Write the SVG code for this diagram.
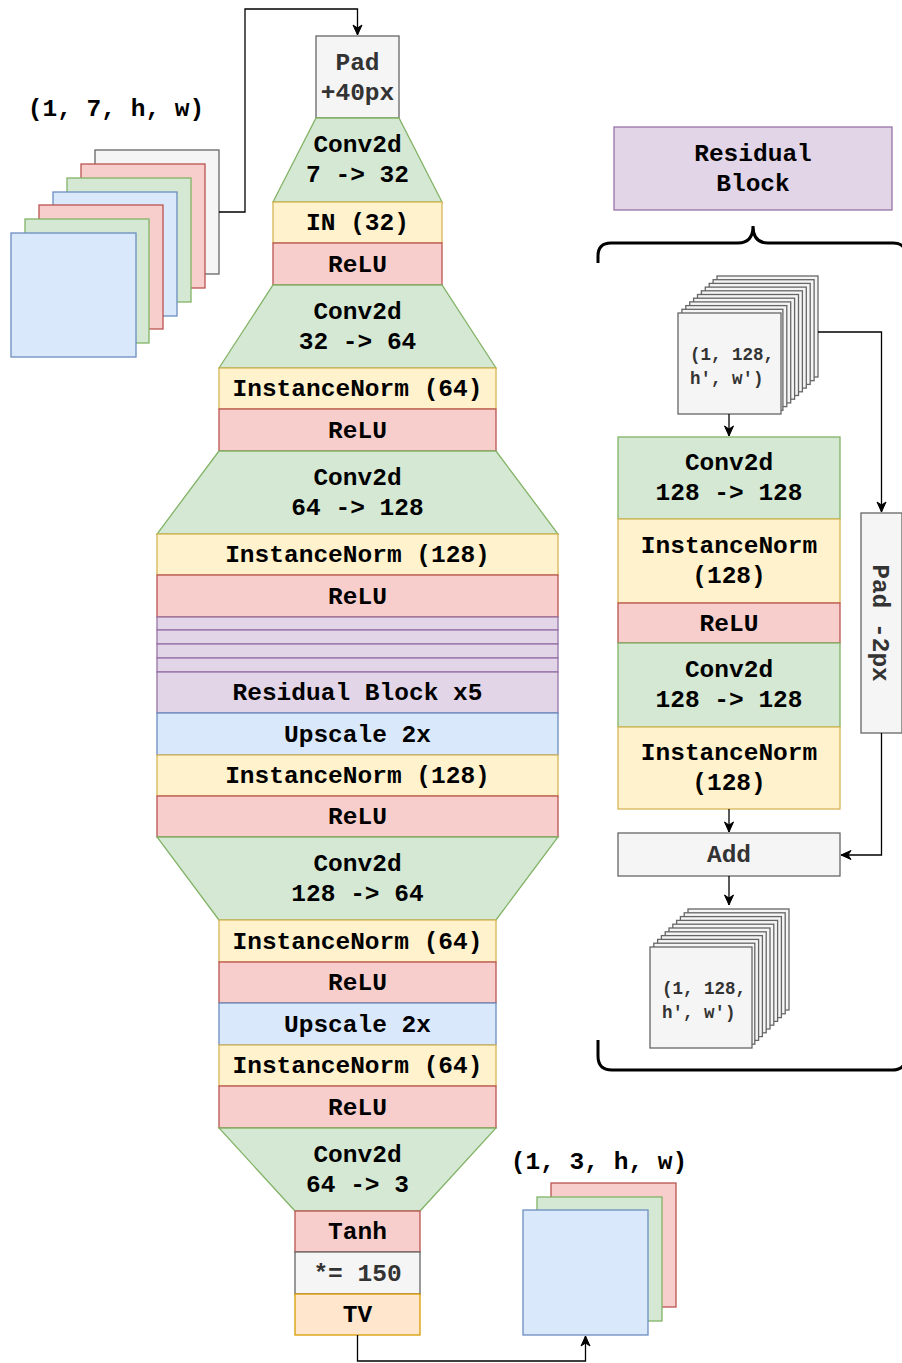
<svg xmlns="http://www.w3.org/2000/svg" width="902" height="1363" viewBox="0 0 902 1363">
  <style>
    text { font-family: "Liberation Mono", "Courier New", monospace; font-weight: bold; font-size: 24.5px; fill: #000; text-anchor: middle; }
    text.dim { fill: #333; }
    text.small { font-size: 17.5px; text-anchor: start; fill: #333; }
    .green { fill: #d5e8d4; stroke: #82b366; stroke-width: 1.3; }
    .yellow { fill: #fff2cc; stroke: #d6b656; stroke-width: 1.3; }
    .red { fill: #f8cecc; stroke: #b85450; stroke-width: 1.3; }
    .blue { fill: #dae8fc; stroke: #6c8ebf; stroke-width: 1.3; }
    .purple { fill: #e1d5e7; stroke: #9673a6; stroke-width: 1.3; }
    .gray { fill: #f5f5f5; stroke: #666; stroke-width: 1.3; }
    .orange { fill: #ffe6cc; stroke: #d79b00; stroke-width: 1.3; }
    .edge { fill: none; stroke: #000; stroke-width: 1.3; }
    .brace { fill: none; stroke: #000; stroke-width: 3; }
  </style>
  <defs>
    <marker id="arrow" markerUnits="userSpaceOnUse" markerWidth="12" markerHeight="12" viewBox="0 0 12 12" refX="11" refY="6" orient="auto">
      <path d="M1,1.5 L11,6 L1,10.5 L4,6 Z" fill="#000" stroke="#000" stroke-width="1"/>
    </marker>
  </defs>

  <!-- input tensor (1, 7, h, w) -->
  <g id="input">
    <text x="116" y="116">(1, 7, h, w)</text>
    <rect class="gray" x="95" y="150" width="124" height="124"/>
    <rect class="red" x="81" y="164" width="124" height="124"/>
    <rect class="green" x="67" y="178" width="124" height="124"/>
    <rect class="blue" x="53" y="192" width="124" height="124"/>
    <rect class="red" x="39" y="205" width="124" height="124"/>
    <rect class="green" x="25" y="219" width="124" height="124"/>
    <rect class="blue" x="11" y="233" width="125" height="124"/>
  </g>

  <!-- generator column -->
  <g id="pad40">
    <rect class="gray" x="316" y="36" width="83" height="82"/>
    <text class="dim" x="357.5" y="70">Pad</text>
    <text class="dim" x="357.5" y="100">+40px</text>
  </g>
  <g id="conv1">
    <polygon class="green" points="316,118 399,118 442,202 273,202"/>
    <text x="357.5" y="152">Conv2d</text>
    <text x="357.5" y="182">7 -&gt; 32</text>
  </g>
  <g id="in32">
    <rect class="yellow" x="273" y="202" width="169" height="41"/>
    <text x="357.5" y="230">IN (32)</text>
  </g>
  <g id="relu1">
    <rect class="red" x="273" y="243" width="169" height="42"/>
    <text x="357.5" y="271.5">ReLU</text>
  </g>
  <g id="conv2">
    <polygon class="green" points="273,285 442,285 496,368 219,368"/>
    <text x="357.5" y="318.5">Conv2d</text>
    <text x="357.5" y="348.5">32 -&gt; 64</text>
  </g>
  <g id="in64a">
    <rect class="yellow" x="219" y="368" width="277" height="41"/>
    <text x="357.5" y="396">InstanceNorm (64)</text>
  </g>
  <g id="relu2">
    <rect class="red" x="219" y="409" width="277" height="42"/>
    <text x="357.5" y="437.5">ReLU</text>
  </g>
  <g id="conv3">
    <polygon class="green" points="219,451 496,451 558,534 157,534"/>
    <text x="357.5" y="484.5">Conv2d</text>
    <text x="357.5" y="514.5">64 -&gt; 128</text>
  </g>
  <g id="in128a">
    <rect class="yellow" x="157" y="534" width="401" height="41"/>
    <text x="357.5" y="562">InstanceNorm (128)</text>
  </g>
  <g id="relu3">
    <rect class="red" x="157" y="575" width="401" height="42"/>
    <text x="357.5" y="603.5">ReLU</text>
  </g>
  <g id="resblocks">
    <rect class="purple" x="157" y="617" width="401" height="13"/>
    <rect class="purple" x="157" y="630" width="401" height="14"/>
    <rect class="purple" x="157" y="644" width="401" height="14"/>
    <rect class="purple" x="157" y="658" width="401" height="14"/>
    <rect class="purple" x="157" y="672" width="401" height="41"/>
    <text x="357.5" y="700">Residual Block x5</text>
  </g>
  <g id="up1">
    <rect class="blue" x="157" y="713" width="401" height="42"/>
    <text x="357.5" y="741.5">Upscale 2x</text>
  </g>
  <g id="in128b">
    <rect class="yellow" x="157" y="755" width="401" height="41"/>
    <text x="357.5" y="783">InstanceNorm (128)</text>
  </g>
  <g id="relu4">
    <rect class="red" x="157" y="796" width="401" height="41"/>
    <text x="357.5" y="824">ReLU</text>
  </g>
  <g id="conv4">
    <polygon class="green" points="157,837 558,837 496,920 219,920"/>
    <text x="357.5" y="870.5">Conv2d</text>
    <text x="357.5" y="900.5">128 -&gt; 64</text>
  </g>
  <g id="in64b">
    <rect class="yellow" x="219" y="920" width="277" height="42"/>
    <text x="357.5" y="948.5">InstanceNorm (64)</text>
  </g>
  <g id="relu5">
    <rect class="red" x="219" y="962" width="277" height="41"/>
    <text x="357.5" y="990">ReLU</text>
  </g>
  <g id="up2">
    <rect class="blue" x="219" y="1003" width="277" height="42"/>
    <text x="357.5" y="1031.5">Upscale 2x</text>
  </g>
  <g id="in64c">
    <rect class="yellow" x="219" y="1045" width="277" height="41"/>
    <text x="357.5" y="1073">InstanceNorm (64)</text>
  </g>
  <g id="relu6">
    <rect class="red" x="219" y="1086" width="277" height="42"/>
    <text x="357.5" y="1114.5">ReLU</text>
  </g>
  <g id="conv5">
    <polygon class="green" points="219,1128 496,1128 420,1211 295,1211"/>
    <text x="357.5" y="1161.5">Conv2d</text>
    <text x="357.5" y="1191.5">64 -&gt; 3</text>
  </g>
  <g id="tanh">
    <rect class="red" x="295" y="1211" width="125" height="41"/>
    <text x="357.5" y="1239">Tanh</text>
  </g>
  <g id="scale">
    <rect class="gray" x="295" y="1252" width="125" height="42"/>
    <text class="dim" x="357.5" y="1280.5">*= 150</text>
  </g>
  <g id="tv">
    <rect class="orange" x="295" y="1294" width="125" height="41"/>
    <text x="357.5" y="1322">TV</text>
  </g>

  <!-- output tensor (1, 3, h, w) -->
  <g id="output">
    <text x="599" y="1169">(1, 3, h, w)</text>
    <rect class="red" x="551" y="1183" width="125" height="124"/>
    <rect class="green" x="537" y="1197" width="125" height="124"/>
    <rect class="blue" x="523" y="1210" width="125" height="125"/>
  </g>

  <!-- residual block detail -->
  <g id="res-title">
    <rect class="purple" x="614" y="127" width="278" height="83"/>
    <text x="753" y="161">Residual</text>
    <text x="753" y="191">Block</text>
  </g>
  <g id="res-braces">
    <path class="brace" d="M598,263 L598,256 Q598,243 611,243 L738,243 Q753,243 753,226 Q753,243 768,243 L893,243 Q906,243 906,256"/>
    <path class="brace" d="M598,1040 L598,1056 Q598,1070 612,1070 L892,1070 Q906,1070 906,1056"/>
  </g>
  <g id="res-input">
    <rect class="gray" x="717" y="276" width="101" height="101"/>
    <rect class="gray" x="713.1" y="279.7" width="101" height="101"/>
    <rect class="gray" x="709.2" y="283.4" width="101" height="101"/>
    <rect class="gray" x="705.3" y="287.1" width="101" height="101"/>
    <rect class="gray" x="701.4" y="290.8" width="101" height="101"/>
    <rect class="gray" x="697.5" y="294.5" width="101" height="101"/>
    <rect class="gray" x="693.6" y="298.2" width="101" height="101"/>
    <rect class="gray" x="689.7" y="301.9" width="101" height="101"/>
    <rect class="gray" x="685.8" y="305.6" width="101" height="101"/>
    <rect class="gray" x="681.9" y="309.3" width="101" height="101"/>
    <rect class="gray" x="678" y="313" width="103" height="101"/>
    <text class="small" x="690" y="360">(1, 128,</text>
    <text class="small" x="690" y="384">h', w')</text>
  </g>
  <g id="res-conv1">
    <rect class="green" x="618" y="437" width="222" height="82"/>
    <text x="729" y="470">Conv2d</text>
    <text x="729" y="500">128 -&gt; 128</text>
  </g>
  <g id="res-in1">
    <rect class="yellow" x="618" y="519" width="222" height="84"/>
    <text x="729" y="553">InstanceNorm</text>
    <text x="729" y="583">(128)</text>
  </g>
  <g id="res-relu">
    <rect class="red" x="618" y="603" width="222" height="40"/>
    <text x="729" y="630.5">ReLU</text>
  </g>
  <g id="res-conv2">
    <rect class="green" x="618" y="643" width="222" height="84"/>
    <text x="729" y="677">Conv2d</text>
    <text x="729" y="707">128 -&gt; 128</text>
  </g>
  <g id="res-in2">
    <rect class="yellow" x="618" y="727" width="222" height="82"/>
    <text x="729" y="760">InstanceNorm</text>
    <text x="729" y="790">(128)</text>
  </g>
  <g id="res-pad">
    <rect class="gray" x="861" y="513" width="41" height="220"/>
    <text class="dim" transform="translate(881.5,623) rotate(90)" x="0" y="9">Pad -2px</text>
  </g>
  <g id="res-add">
    <rect class="gray" x="618" y="833" width="222" height="43"/>
    <text class="dim" x="729" y="862">Add</text>
  </g>
  <g id="res-output">
    <rect class="gray" x="688" y="909" width="101" height="101"/>
    <rect class="gray" x="684.2" y="912.8" width="101" height="101"/>
    <rect class="gray" x="680.4" y="916.6" width="101" height="101"/>
    <rect class="gray" x="676.6" y="920.4" width="101" height="101"/>
    <rect class="gray" x="672.8" y="924.2" width="101" height="101"/>
    <rect class="gray" x="669" y="928" width="101" height="101"/>
    <rect class="gray" x="665.2" y="931.8" width="101" height="101"/>
    <rect class="gray" x="661.4" y="935.6" width="101" height="101"/>
    <rect class="gray" x="657.6" y="939.4" width="101" height="101"/>
    <rect class="gray" x="653.8" y="943.2" width="101" height="101"/>
    <rect class="gray" x="650" y="947" width="102" height="101"/>
    <text class="small" x="662" y="994">(1, 128,</text>
    <text class="small" x="662" y="1018">h', w')</text>
  </g>

  <!-- connectors -->
  <g id="connectors">
    <path class="edge" d="M219,212 L245,212 L245,9 L357.5,9 L357.5,35" marker-end="url(#arrow)"/>
    <path class="edge" d="M357.5,1335 L357.5,1361 L585.5,1361 L585.5,1336" marker-end="url(#arrow)"/>
    <path class="edge" d="M729,414 L729,436" marker-end="url(#arrow)"/>
    <path class="edge" d="M818,332 L881.5,332 L881.5,512" marker-end="url(#arrow)"/>
    <path class="edge" d="M881.5,733 L881.5,855 L841,855" marker-end="url(#arrow)"/>
    <path class="edge" d="M729,809 L729,832" marker-end="url(#arrow)"/>
    <path class="edge" d="M729,876 L729,905" marker-end="url(#arrow)"/>
  </g>
</svg>
